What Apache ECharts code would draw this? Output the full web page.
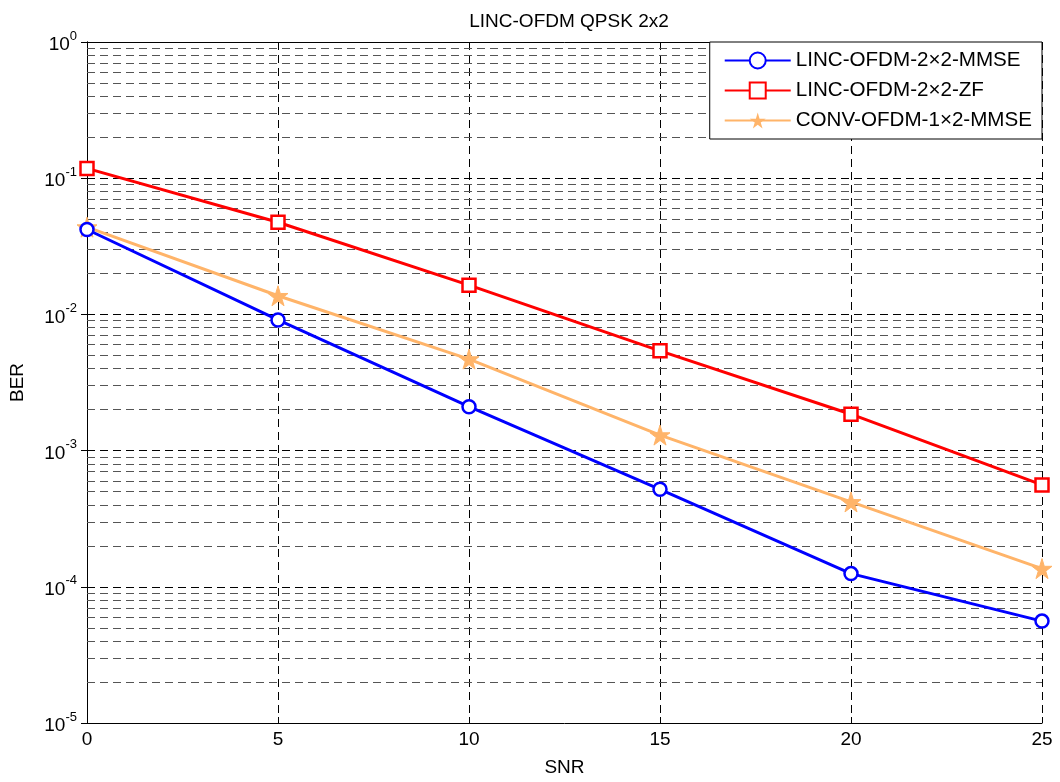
<!DOCTYPE html>
<html><head><meta charset="utf-8">
<script src="https://cdn.jsdelivr.net/npm/echarts@6/dist/echarts.min.js"></script>
<style>html,body{margin:0;padding:0;background:#fff}#c{width:1060px;height:782px}</style>
</head><body><div id="c"></div>
<script>
const snr = [0, 5, 10, 15, 20, 25];
const mmse2x2 = [0.042, 0.0091, 0.0021, 5.2e-4, 1.25e-4, 5.6e-5];
const zf2x2 = [0.118, 0.0475, 0.0164, 5.4e-3, 1.85e-3, 5.6e-4];
const conv1x2 = [0.0437, 0.0137, 4.7e-3, 1.3e-3, 4.2e-4, 1.36e-4];
const minorGrid = [];
for (let e = -5; e < 0; e++) for (let m = 2; m <= 9; m++) minorGrid.push(m * Math.pow(10, e));

const FONT = 'Liberation Sans';
const star = 'path://M50,0 L61,35 L98,35 L68,57 L79,91 L50,70 L21,91 L32,57 L2,35 L39,35 Z';
const dash = [8, 5];

const chart = echarts.init(document.getElementById('c'));
chart.setOption({
  animation: false,
  backgroundColor: '#fff',
  title: { text: 'LINC-OFDM QPSK 2x2', left: 564, top: 7, textAlign: 'center',
    textStyle: { fontFamily: FONT, fontSize: 19, fontWeight: 'normal', color: '#000' } },
  grid: { left: 87, right: 18, top: 42, bottom: 56 },
  legend: {
    right: 18, top: 42, orient: 'vertical', backgroundColor: '#fff', z: 20,
    borderColor: '#000', borderWidth: 1, padding: [8, 10, 8, 14],
    itemWidth: 66, itemHeight: 20, itemGap: 9,
    textStyle: { fontFamily: FONT, fontSize: 20.6, color: '#000' },
    data: ['LINC-OFDM-2×2-MMSE', 'LINC-OFDM-2×2-ZF', 'CONV-OFDM-1×2-MMSE']
  },
  xAxis: [{
    type: 'value', min: 0, max: 25, interval: 5, name: 'SNR', nameLocation: 'middle', nameGap: 35,
    nameTextStyle: { fontFamily: FONT, fontSize: 19, color: '#000' },
    axisLine: { lineStyle: { color: '#000', width: 1 } },
    axisTick: { inside: true, length: 6, lineStyle: { color: '#000' } },
    axisLabel: { fontFamily: FONT, fontSize: 19, color: '#000', margin: 7 },
    splitLine: { show: true, lineStyle: { color: '#000', type: dash, width: 1 } }
  }, {
    type: 'value', min: 0, max: 25, interval: 5, position: 'top',
    axisLine: { lineStyle: { color: '#000', width: 1 } },
    axisTick: { inside: true, length: 6, lineStyle: { color: '#000' } },
    axisLabel: { show: false }, splitLine: { show: false }
  }],
  yAxis: [{
    type: 'log', min: 1e-5, max: 1, logBase: 10, name: 'BER', nameLocation: 'middle', nameGap: 60,
    nameTextStyle: { fontFamily: FONT, fontSize: 19, color: '#000' },
    axisLine: { lineStyle: { color: '#000', width: 1 } },
    axisTick: { inside: true, length: 6, lineStyle: { color: '#000' } },
    axisLabel: {
      margin: 10,
      formatter: v => '{b|10}{s|' + Math.round(Math.log10(v)) + '}',
      rich: {
        b: { fontFamily: FONT, fontSize: 19, color: '#000', verticalAlign: 'bottom' },
        s: { fontFamily: FONT, fontSize: 13, color: '#000', verticalAlign: 'top', padding: [0, 0, 12, 0] }
      }
    },
    splitLine: { show: true, lineStyle: { color: '#000', type: dash, width: 1 } }
  }, {
    type: 'log', min: 1e-5, max: 1, logBase: 10, position: 'right',
    axisLine: { show: true, lineStyle: { color: '#000', width: 1 } },
    axisTick: { show: true, inside: true, length: 6, lineStyle: { color: '#000' } },
    axisLabel: { show: false }, splitLine: { show: false }
  }],
  series: [
    { name: 'minor', type: 'lines', coordinateSystem: 'cartesian2d', silent: true, z: 1,
      lineStyle: { color: '#555', type: dash, width: 1, opacity: 1 },
      data: minorGrid.map(v => ({ coords: [[0, v], [25, v]] })) },
    { name: 'LINC-OFDM-2×2-MMSE', type: 'line', data: snr.map((x, i) => [x, mmse2x2[i]]),
      symbol: 'circle', symbolSize: 13, showAllSymbol: true,
      lineStyle: { color: '#0000ff', width: 3 },
      itemStyle: { color: '#fff', borderColor: '#0000ff', borderWidth: 2.5 }, z: 5 },
    { name: 'LINC-OFDM-2×2-ZF', type: 'line', data: snr.map((x, i) => [x, zf2x2[i]]),
      symbol: 'rect', symbolSize: 13,
      lineStyle: { color: '#ff0000', width: 3 },
      itemStyle: { color: '#fff', borderColor: '#ff0000', borderWidth: 2.5 }, z: 5 },
    { name: 'CONV-OFDM-1×2-MMSE', type: 'line', data: snr.map((x, i) => [x, conv1x2[i]]),
      symbol: star, symbolSize: 20,
      lineStyle: { color: '#ffb469', width: 3 },
      itemStyle: { color: '#ffb469', borderColor: '#ffb469' }, z: 4 }
  ]
});
</script></body></html>
